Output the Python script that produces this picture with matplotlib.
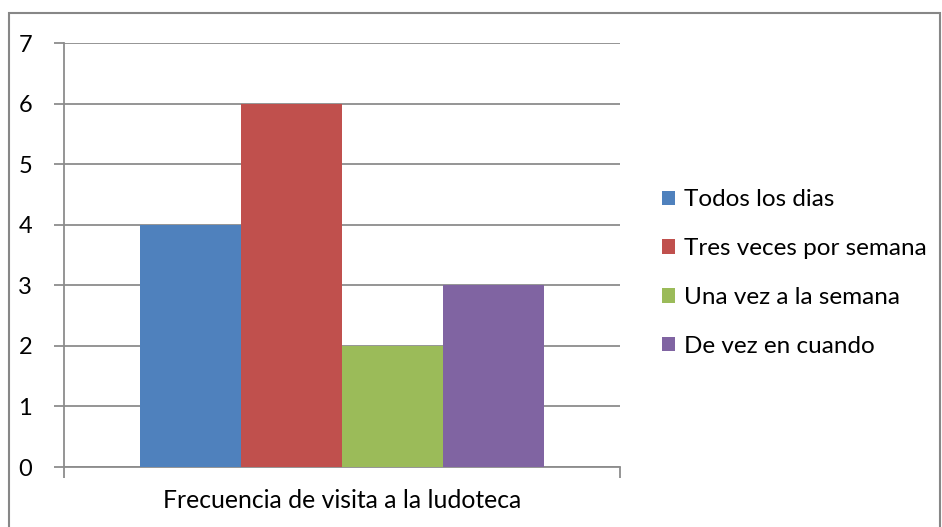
import matplotlib.pyplot as plt
from matplotlib.patches import Rectangle

categories = ["Frecuencia de visita a la ludoteca"]
series_names = ["Todos los dias", "Tres veces por semana", "Una vez a la semana", "De vez en cuando"]
series_values = [4, 6, 2, 3]
y_ticks = [0, 1, 2, 3, 4, 5, 6, 7]
colors = ["#4f81bd", "#c0504d", "#9bbb59", "#8064a2"]

plt.rcParams['font.family'] = ['Lato', 'DejaVu Sans']

W, H = 942, 527
fig = plt.figure(figsize=(W / 100, H / 100), dpi=100)
ax = fig.add_axes([64 / W, (H - 467) / H, 556 / W, 424 / H])

# outer chart border
fig.patches.append(Rectangle((9 / W, -0.01), (W - 11) / W, (H - 13) / H + 0.01,
                             transform=fig.transFigure, fill=False,
                             edgecolor="#878787", linewidth=1.5))

bar_w = 101 / 556
n = len(series_names)
for i, (name, val) in enumerate(zip(series_names, series_values)):
    ax.bar(0 + (i - (n - 1) / 2) * bar_w, val, width=bar_w, color=colors[i],
           label=name, zorder=3)

ax.set_xlim(-0.5, 0.5)
ax.set_ylim(0, 7)
ax.set_yticks(y_ticks)
ax.set_yticklabels([str(t) for t in y_ticks], fontsize=17)
ax.set_xticks([-0.5, 0.5])
ax.set_xticklabels(["", ""])
fig.text(342 / W, 1 - 500 / H, categories[0], ha="center", va="center", fontsize=17.8)

ax.grid(axis="y", color="#8c8c8c", linewidth=1.3, zorder=0)
for side in ["top", "right"]:
    ax.spines[side].set_visible(False)
for side in ["left", "bottom"]:
    ax.spines[side].set_color("#8c8c8c")
    ax.spines[side].set_linewidth(1.3)
ax.tick_params(axis="y", length=7, width=1.3, color="#8c8c8c", pad=16)
ax.tick_params(axis="x", length=8, width=1.3, color="#8c8c8c")

leg = fig.legend(loc="center left", bbox_to_anchor=(662 / W, 1 - 273 / H),
                 frameon=False, fontsize=17.5, handlelength=0.55, handleheight=0.55,
                 handletextpad=0.35, labelspacing=1.14, borderpad=0, borderaxespad=0)

fig.savefig("out.png", dpi=100)
